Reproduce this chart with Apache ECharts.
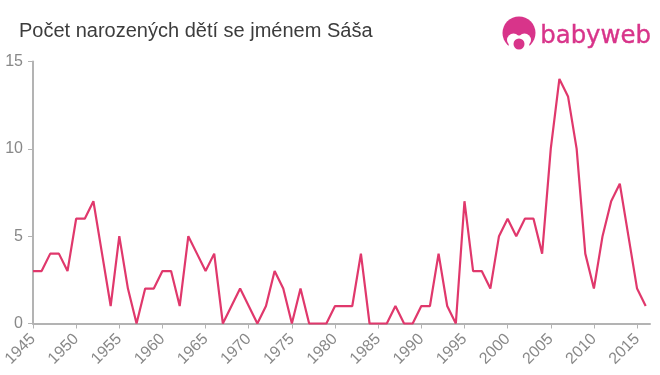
<!DOCTYPE html>
<html>
<head>
<meta charset="utf-8">
<style>
    html, body { margin: 0; padding: 0; background: #fff; }
    #chart { width: 660px; height: 375px; }
</style>
</head>
<body>
<div id="chart"></div>
<script src="https://cdn.jsdelivr.net/npm/echarts@6/dist/echarts.min.js"></script>
<script>
    const titleText = 'Počet narozených dětí se jménem Sáša';
    const years = [1945, 1946, 1947, 1948, 1949, 1950, 1951, 1952, 1953, 1954, 1955, 1956, 1957, 1958, 1959, 1960, 1961, 1962, 1963, 1964, 1965, 1966, 1967, 1968, 1969, 1970, 1971, 1972, 1973, 1974, 1975, 1976, 1977, 1978, 1979, 1980, 1981, 1982, 1983, 1984, 1985, 1986, 1987, 1988, 1989, 1990, 1991, 1992, 1993, 1994, 1995, 1996, 1997, 1998, 1999, 2000, 2001, 2002, 2003, 2004, 2005, 2006, 2007, 2008, 2009, 2010, 2011, 2012, 2013, 2014, 2015, 2016];
    const births = [3, 3, 4, 4, 3, 6, 6, 7, 4, 1, 5, 2, 0, 2, 2, 3, 3, 1, 5, 4, 3, 4, 0, 1, 2, 1, 0, 1, 3, 2, 0, 2, 0, 0, 0, 1, 1, 1, 4, 0, 0, 0, 1, 0, 0, 1, 1, 4, 1, 0, 7, 3, 3, 2, 5, 6, 5, 6, 6, 4, 10, 14, 13, 10, 4, 2, 5, 7, 8, 5, 2, 1];
    const xTicks = [1945, 1950, 1955, 1960, 1965, 1970, 1975, 1980, 1985, 1990, 1995, 2000, 2005, 2010, 2015];
    const yTicks = [0, 5, 10, 15];

    const logoColor = '#d8348a';
    const myChart = echarts.init(document.getElementById('chart'));
    const option = {
        animation: false,
        backgroundColor: '#fff',
        textStyle: { fontFamily: '"Liberation Sans", Arial, sans-serif' },
        title: {
            text: titleText,
            left: 14,
            top: 16,
            textStyle: { color: '#3c3c3c', fontSize: 20, fontWeight: 'normal', fontFamily: '"Liberation Sans", Arial, sans-serif' }
        },
        grid: { left: 33, right: 10, top: 61.5, bottom: 51.5 },
        xAxis: {
            type: 'value',
            min: 1945,
            max: 2016.5,
            splitLine: { show: false },
            axisLine: { lineStyle: { color: '#b3b3b3', width: 2 } },
            axisTick: { length: 5, customValues: xTicks, lineStyle: { color: '#b3b3b3', width: 1 } },
            axisLabel: {
                customValues: xTicks,
                rotate: 45,
                margin: 13,
                color: '#888888',
                fontSize: 16,
                formatter: (v) => String(v)
            }
        },
        yAxis: {
            type: 'value',
            min: 0,
            max: 15,
            interval: 5,
            splitLine: { show: false },
            axisLine: { show: true, lineStyle: { color: '#b3b3b3', width: 2 } },
            axisTick: { show: true, length: 5, lineStyle: { color: '#b3b3b3', width: 1 } },
            axisLabel: { customValues: yTicks, margin: 10, color: '#888888', fontSize: 16, padding: [3, 0, 0, 0] }
        },
        series: [{
            type: 'line',
            data: years.map((y, i) => [y, births[i]]),
            showSymbol: false,
            clip: false,
            lineStyle: { color: '#e0386c', width: 2.2 }
        }],
        graphic: [
            { type: 'circle', shape: { cx: 519, cy: 33, r: 16.5 }, style: { fill: logoColor } },
            { type: 'circle', shape: { cx: 513.5, cy: 40, r: 6.5 }, style: { fill: '#fff' } },
            { type: 'circle', shape: { cx: 524.5, cy: 40, r: 6.5 }, style: { fill: '#fff' } },
            { type: 'circle', shape: { cx: 519, cy: 46, r: 10.5 }, style: { fill: '#fff' } },
            { type: 'circle', shape: { cx: 519, cy: 44, r: 5.5 }, style: { fill: logoColor } },
            { type: 'text', left: 540, top: 24, style: { text: 'babyweb', fill: logoColor, stroke: logoColor, lineWidth: 0.4, font: '24.4px "DejaVu Sans", sans-serif' } }
        ]
    };
    myChart.setOption(option);
</script>
</body>
</html>
